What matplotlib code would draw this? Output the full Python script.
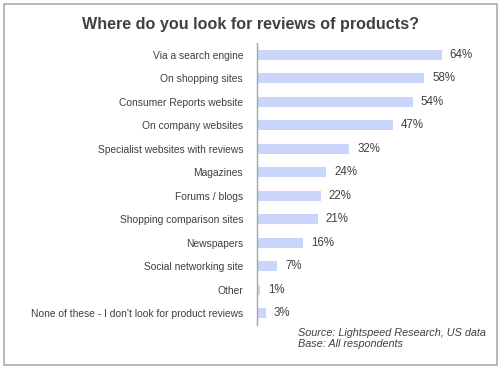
import matplotlib.pyplot as plt
from matplotlib.patches import Rectangle

plt.rcParams['font.family'] = ['Liberation Sans', 'DejaVu Sans']

categories = ['Via a search engine', 'On shopping sites', 'Consumer Reports website',
              'On company websites', 'Specialist websites with reviews', 'Magazines',
              'Forums / blogs', 'Shopping comparison sites', 'Newspapers',
              'Social networking site', 'Other',
              "None of these - I don't look for product reviews"]
values = [64, 58, 54, 47, 32, 24, 22, 21, 16, 7, 1, 3]

txt = '#404040'

fig = plt.figure(figsize=(5, 3.71), dpi=100)
fig.patches.append(Rectangle((0.008, 0.016), 0.986, 0.973, transform=fig.transFigure,
                             fill=False, edgecolor='#a6a6a6', linewidth=1.1))

ax = fig.add_axes([0.514, 0.124, 0.462, 0.760])
y = list(range(len(categories)))
ax.barh(y, values, height=0.42, color='#c9d5fa', edgecolor='none')
ax.set_ylim(len(categories) - 0.5, -0.5)
ax.set_xlim(0, 80)
ax.set_yticks(y)
ax.set_yticklabels(categories, fontsize=7.4, color=txt)
ax.tick_params(axis='y', length=0, pad=10)
ax.set_xticks([])
for s in ['top', 'right', 'bottom']:
    ax.spines[s].set_visible(False)
ax.spines['left'].set_color('#a6a6a6')
ax.spines['left'].set_linewidth(1.0)

for yi, v in zip(y, values):
    ax.text(v + 2.7, yi, f'{v}%', va='center', ha='left', fontsize=8.3, color=txt)

fig.text(0.5, 0.935, 'Where do you look for reviews of products?', ha='center', va='center',
         fontsize=11.6, fontweight='bold', color=txt)
fig.text(0.596, 0.088, 'Source: Lightspeed Research, US data\nBase: All respondents',
         ha='left', va='center', fontsize=7.8, style='italic', color=txt, linespacing=1.2)

fig.savefig('out.png', dpi=100)
